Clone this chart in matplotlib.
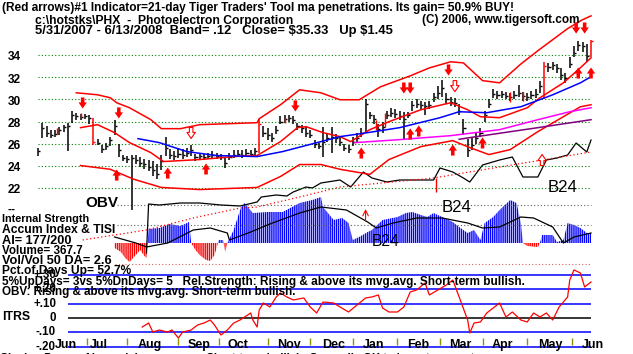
import matplotlib
matplotlib.use("Agg")
import matplotlib.pyplot as plt
import matplotlib.transforms as mtransforms

plt.rcParams['font.family'] = ['Liberation Sans', 'DejaVu Sans']
plt.rcParams['hatch.linewidth'] = 1.0

W, H = 633, 354
X0, DX = 38, 2.127   # pixel of first trading day, pixels per trading day

# ---------------- data ----------------
bar_days = list(range(0, 261, 2))
closes = [25.3, 27.4, 27.0, 26.8, 26.9, 27.2, 27.5, 27.6, 28.6, 28.5,
          28.4, 28.5, 28.3, 26.2, 26.1, 25.5, 25.8, 26.3, 27.6, 25.4,
          24.7, 24.6, 24.7, 24.5, 24.3, 24.2, 23.9, 23.6, 23.3, 24.4,
          25.6, 25.0, 24.9, 25.1, 25.0, 25.2, 25.4, 24.8, 24.9, 24.8,
          24.9, 25.0, 24.9, 24.8, 24.3, 24.8, 25.0, 25.1, 25.0, 25.2,
          25.1, 25.3, 27.8, 27.0, 26.8, 26.5, 27.2, 28.0, 28.2, 28.3,
          28.1, 27.6, 27.4, 27.0, 26.8, 26.0, 25.8, 26.2, 26.5, 26.6,
          26.5, 26.2, 25.6, 25.5, 26.2, 26.5, 27.0, 29.6, 28.6, 28.2,
          27.3, 27.5, 28.6, 28.8, 28.7, 28.5, 28.2, 28.6, 29.5, 29.6,
          29.5, 29.4, 29.5, 30.2, 30.6, 31.0, 30.0, 29.8, 29.7, 29.0,
          27.4, 25.4, 25.9, 26.5, 27.0, 28.6, 29.6, 30.5, 30.4, 30.5,
          30.3, 30.2, 30.4, 30.6, 30.3, 30.2, 30.4, 30.5, 31.2, 33.0,
          32.9, 33.1, 32.8, 32.2, 31.9, 33.2, 34.2, 34.9, 34.8, 33.9, 35.3]
highs = [25.6, 27.9, 27.6, 27.2, 27.2, 27.5, 27.7, 27.9, 29.0, 28.8,
         28.7, 28.7, 28.6, 28.3, 26.4, 25.9, 26.1, 26.6, 28.1, 26.0,
         25.0, 24.9, 25.0, 25.0, 24.8, 24.6, 24.5, 24.4, 24.2, 25.0,
         26.6, 25.5, 25.3, 25.6, 25.5, 25.6, 25.9, 25.1, 25.2, 25.1,
         25.2, 25.3, 25.2, 25.1, 24.7, 25.2, 25.4, 25.4, 25.4, 25.5,
         25.4, 25.6, 28.2, 27.6, 27.4, 27.0, 27.6, 28.5, 28.6, 28.6,
         28.5, 27.9, 27.7, 27.5, 27.2, 26.3, 26.1, 27.5, 27.0, 27.5,
         26.9, 26.6, 26.0, 25.9, 26.6, 27.0, 27.4, 30.0, 28.9, 28.6,
         27.8, 28.0, 29.0, 29.2, 29.1, 29.0, 28.9, 28.9, 29.9, 30.0,
         29.9, 29.8, 29.9, 30.6, 31.2, 31.8, 30.6, 30.2, 30.1, 29.6,
         28.2, 26.4, 26.5, 27.0, 27.4, 29.0, 30.0, 30.9, 30.8, 30.8,
         30.7, 30.6, 30.8, 31.3, 30.7, 30.6, 30.8, 30.9, 31.7, 33.4,
         33.3, 33.4, 33.2, 32.8, 32.4, 33.8, 34.8, 35.3, 35.2, 35.0, 35.4]
lows = [24.9, 26.5, 26.6, 26.5, 26.6, 26.8, 27.1, 25.3, 27.9, 28.1,
        28.1, 28.2, 27.8, 25.9, 25.9, 25.2, 25.4, 25.8, 26.8, 24.8,
        24.4, 24.3, 20.0, 24.2, 23.9, 23.7, 23.5, 23.1, 22.8, 23.6,
        24.9, 24.6, 24.5, 24.7, 24.6, 24.8, 24.9, 24.4, 24.6, 24.5,
        24.6, 24.7, 24.6, 24.5, 23.8, 24.5, 24.7, 24.8, 24.7, 24.8,
        24.8, 25.0, 25.2, 26.6, 26.3, 26.2, 26.9, 27.8, 27.9, 28.0,
        27.8, 27.2, 27.0, 26.6, 26.5, 25.6, 25.5, 24.8, 26.2, 25.2,
        26.1, 25.8, 25.3, 25.2, 25.8, 26.1, 26.6, 27.0, 28.2, 27.8,
        26.6, 27.0, 28.2, 28.4, 28.3, 28.1, 26.4, 28.3, 29.0, 29.2,
        29.1, 28.6, 29.1, 29.8, 30.0, 30.2, 29.6, 29.4, 29.3, 28.6,
        26.8, 24.8, 25.4, 26.0, 26.6, 28.0, 29.2, 30.1, 30.0, 30.1,
        30.0, 29.9, 30.0, 30.2, 29.9, 29.9, 30.0, 30.1, 30.6, 30.0,
        32.5, 32.7, 32.4, 31.8, 31.5, 32.8, 33.8, 34.4, 34.3, 33.4, 33.8]
signal_bars = [13, 52, 119, 130]

upper_days = [18, 28, 34, 37, 43, 53, 58, 67, 76, 103, 104, 114, 123, 133, 142, 151, 161, 175,
              184, 194, 200, 209, 217, 227, 235, 242, 249, 256, 260]
upper_band = [30.60, 30.42, 30.15, 29.70, 29.25, 28.18, 27.36, 27.36, 27.72, 27.90, 28.26, 29.52,
              30.87, 30.60, 29.97, 29.97, 31.14, 32.13, 32.85, 33.40, 33.30, 31.70, 31.50, 33.20,
              34.40, 35.40, 36.40, 37.20, 37.55]
lower_days = [20, 34, 45, 58, 76, 103, 114, 123, 133, 142, 156, 165, 180, 195, 203, 212, 222,
              235, 247, 255, 260]
lower_band = [24.03, 23.69, 22.79, 22.05, 21.86, 22.05, 23.04, 24.12, 24.12, 23.69, 23.23, 24.57,
              25.74, 26.28, 25.65, 25.02, 25.47, 27.09, 28.44, 29.34, 29.52]
ma21_days = [20, 28, 36, 43, 53, 59, 76, 92, 103, 114, 122, 126, 134, 142, 147, 156, 165, 180,
             194, 202, 208, 217, 230, 236, 247, 255, 260]
ma21 = [27.45, 27.72, 27.00, 26.10, 25.20, 24.39, 24.57, 24.84, 24.93, 26.19, 27.45, 27.54, 27.00,
        26.64, 26.19, 27.27, 27.99, 29.07, 29.70, 29.07, 28.44, 28.35, 29.25, 30.15, 31.50, 32.86,
        33.76]
ma50_days = [47, 57, 70, 84, 103, 115, 133, 142, 155, 170, 189, 198, 211, 227, 242, 255, 260]
ma50 = [26.46, 26.10, 25.29, 24.93, 24.84, 25.29, 26.19, 26.64, 27.00, 27.45, 28.35, 28.89, 28.80,
        29.34, 30.42, 31.50, 32.05]
mag_days = [149, 170, 194, 217, 235, 250, 260]
ma_mag = [26.10, 26.37, 26.73, 27.27, 28.17, 28.89, 29.25]
pur_days = [198, 203, 235, 260]
ma_pur = [26.40, 26.55, 27.45, 28.17]

# red "tool" arrows: (day, price)
down_arrows = [(21, 29.68), (38, 28.78), (121, 29.41), (172, 31.03), (175, 31.03), (193, 32.66),
               (253, 36.45), (257, 36.45)]
down_hollow = [(72, 26.97), (196, 31.2)]
up_arrows = [(37, 23.17), (61, 23.35), (79, 23.72), (152, 25.16), (175, 26.88), (179, 27.15),
             (195, 25.43), (209, 26.07), (254, 32.39), (260, 32.39)]
up_hollow = [(237, 24.53)]
red_ticks = [(9, 26.9, 27.4), (20, 28.4, 28.8), (116, 27.9, 28.3), (159, 27.2, 28.1),
             (163, 27.5, 28.8), (222, 29.8, 30.7), (228, 29.9, 30.7)]

# on-balance volume (arbitrary units) and its moving average
obv_days = [51, 52, 57, 67, 76, 86, 95, 103, 105, 112, 117, 120, 126, 129, 133, 136, 142, 147, 153,
            157, 164, 170, 175, 186, 189, 195, 200, 203, 209, 217, 223, 228, 235, 239, 244, 249,
            253, 258, 260]
obv = [-43, 6, 5, 7, 7, 5, 4, 8, 13, 15, 14, 18, 23, 22, 27, 28, 30, 23, 38, 32, 28, 30, 30, 30, 42,
       38, 32, 28, 45, 50, 53, 33, 33, 50, 52, 55, 67, 58, 70]
obv_ma_days = [21, 51, 73, 95, 103, 123, 142, 186, 217, 260]
obv_ma = [-30, -20, -8, 2, 3, 13, 23, 32, 43, 58]

# accumulation index and TISI (arbitrary units)
ai_days = [36, 39, 41, 43, 46, 48, 50, 51, 52, 57, 62, 67, 71, 72, 74, 76, 79, 81, 83, 85,
           87, 88, 89, 92, 95, 97, 101, 108, 115, 123, 129, 133, 134, 139, 143, 146, 148, 151, 155, 157,
           162, 169, 173, 176, 180, 183, 186, 190, 195, 198, 202, 205, 208, 210, 214, 217, 222, 225, 227, 228,
           230, 235, 236, 237, 242, 244, 247, 249, 252, 255, 258, 260]
ai = [-0.5, -0.9, -1.5, -1.9, -1.2, -0.7, -1.3, -1.5, 1.4, 1.5, 1.9, 1.7, 2.1, 0.0, -0.7, -1.2, -1.7, -1.8, -1.2, 0.3,
      0.3, -0.9, 0.0, 1.3, 3.3, 4.0, 3.0, 3.1, 3.1, 4.0, 4.3, 4.6, 3.6, 2.3, 2.5, 2.0, 0.3, 0.6, 1.1, 1.3,
      2.3, 2.6, 3.0, 3.1, 2.8, 2.6, 3.0, 2.6, 2.1, 1.6, 1.0, 1.3, 0.3, 2.0, 2.6, 3.3, 4.3, 4.0, 2.0, 0.0,
      -0.3, -0.4, 0.0, 0.8, 0.8, 0.1, 0.3, 2.0, 1.8, 1.5, 1.0, 1.0]
tisi_days = [36, 41, 46, 51, 61, 73, 81, 89, 90, 100, 109, 123, 133, 145, 155, 159, 167, 178, 190,
             202, 209, 217, 227, 233, 242, 247, 252, 260]
tisi = [0.6, 0.3, 0.0, -0.4, 0.0, 1.3, 1.5, 1.0, 0.3, 1.1, 1.9, 3.0, 3.6, 3.3, 2.1, 1.5, 2.0, 2.5, 2.5,
        2.0, 1.5, 1.6, 2.6, 2.5, 1.6, 0.0, 0.6, 1.0]

# intermediate-term relative strength
itrs_days = [49, 52, 54, 57, 61, 63, 66, 68, 72, 75, 78, 81, 83, 86, 89, 92, 95, 100, 101, 103,
             104, 106, 109, 112, 114, 117, 120, 125, 128, 131, 134, 139, 142, 146, 150, 154, 157, 160, 162, 165,
             169, 172, 175, 178, 182, 184, 188, 192, 195, 198, 202, 203, 205, 208, 211, 214, 217, 220, 223, 227,
             230, 233, 236, 239, 242, 245, 249, 250, 252, 255, 257, 260]
itrs = [-0.063, -0.035, -0.098, -0.084, -0.098, -0.084, -0.14, -0.098, -0.084, -0.049,
        -0.035, -0.014, -0.049, -0.119, -0.084, -0.035, -0.014, 0.035, -0.014, -0.063,
        0.056, 0.105, 0.077, 0.147, 0.175, 0.147, 0.126, 0.14, 0.077, 0.035,
        0.112, 0.105, 0.077, 0.042, 0.091, 0.14, 0.147, 0.161, 0.07, 0.042,
        0.042, 0.077, 0.182, 0.196, 0.245, 0.161, 0.196, 0.231, 0.266, 0.147,
        -0.014, -0.105, -0.035, -0.028, 0.035, 0.07, 0.105, 0.007, 0.042, -0.014,
        -0.028, 0.035, 0.007, 0.035, -0.014, 0.077, 0.147, 0.266, 0.336, 0.315,
        0.217, 0.252]
itrs_levels = [0.3, 0.2, 0.1, -0.1, -0.2]
itrs_labels = {0.3: "+.30", 0.2: "+.20", 0.1: "+.10", 0.0: "0", -0.1: "-.10", -0.2: "-.20"}

price_levels = [22, 24, 26, 28, 30, 32, 34]
month_ticks = [23, 42, 66, 85, 108, 128, 148, 169, 189, 209, 230, 251]
month_names = ["Jun", "Jul", "Aug", "Sep", "Oct", "Nov", "Dec", "Jan", "Feb", "Mar", "Apr", "May", "Jun"]
month_label_days = [8, 24.4, 47, 70.5, 89.3, 112.4, 133.5, 152.8, 173.5, 193.2, 213.4, 235, 255.8]

# ---------------- figure ----------------
fig = plt.figure(figsize=(W / 100, H / 100), dpi=100)
fig.patch.set_facecolor('white')


def layer(ref_val, ref_px, px_per_unit):
    """Full-figure axes whose value ref_val sits at pixel row ref_px."""
    ax = fig.add_axes([0, 0, 1, 1])
    ax.set_xlim(-X0 / DX, (W - X0) / DX)
    ax.set_ylim(ref_val - (H - ref_px) / px_per_unit, ref_val + ref_px / px_per_unit)
    ax.axis('off')
    ax.patch.set_alpha(0)
    return ax


ax_a = layer(0, 243, 10)      # accumulation panel
ax_i = layer(0, 318, 143)     # ITRS panel
ax_o = layer(0, 210, 1)       # OBV
ax_p = layer(22, 188, 11.07)  # price

dot = (0, (1, 2))

# price panel
ax_p.hlines(price_levels, 0, 260, colors='#008000', linestyles=dot, lw=0.8)
bar_cols = ['red' if k in signal_bars else 'black' for k in range(len(bar_days))]
ax_p.vlines(bar_days, lows, highs, colors=bar_cols, lw=1.1)
ax_p.hlines(closes, bar_days, [d + 1.0 for d in bar_days], colors=bar_cols, lw=1.0)
for d, lo, hi in red_ticks:
    ax_p.vlines(d, lo, hi, colors='red', lw=1.0)
ax_p.plot(upper_days, upper_band, color='red', lw=1.1)
ax_p.plot(lower_days, lower_band, color='red', lw=1.1)
ax_p.plot(ma21_days, ma21, color='red', lw=1.1)
ax_p.plot(ma50_days, ma50, color='blue', lw=1.1)
ax_p.plot(mag_days, ma_mag, color='#ff00ff', lw=1.1)
ax_p.plot(pur_days, ma_pur, color='#800080', lw=1.1)


def arrow(d, p, up, hollow=False):
    tail, tip = (p - 0.5, p + 0.5) if up else (p + 0.5, p - 0.5)
    ax_p.annotate('', xy=(d, tip), xytext=(d, tail),
                  arrowprops=dict(arrowstyle='simple,head_length=0.55,head_width=0.75,tail_width=0.32',
                                  fc='white' if hollow else 'red', ec='red',
                                  lw=0.8 if hollow else 0, shrinkA=0, shrinkB=0, mutation_scale=8))


for d, p in down_arrows:
    arrow(d, p, False)
for d, p in down_hollow:
    arrow(d, p, False, True)
for d, p in up_arrows:
    arrow(d, p, True)
for d, p in up_hollow:
    arrow(d, p, True, True)
ax_p.annotate('', xy=(154, 20.1), xytext=(154, 19.0),
              arrowprops=dict(arrowstyle='->', color='red', lw=0.8, shrinkA=0, shrinkB=0))

# OBV
ax_o.plot(obv_days, obv, color='black', lw=0.9)
ax_o.plot(obv_ma_days, obv_ma, color='red', lw=0.9, ls=dot)
ax_o.vlines(187, 18, 32, colors='red', lw=1.0)

# accumulation index + TISI
ax_a.hlines([3.8, 1.8], 37, 260, colors='#606060', linestyles=dot, lw=0.8)
ax_a.hlines([-2.1], 36, 260, colors='#e06060', linestyles=dot, lw=0.8)
ax_a.fill_between(ai_days, 0, ai, where=[v >= 0 for v in ai], interpolate=True,
                  facecolor='white', edgecolor='blue', hatch='||||||||', lw=0)
ax_a.fill_between(ai_days, 0, ai, where=[v <= 0 for v in ai], interpolate=True,
                  facecolor='white', edgecolor='red', hatch='||||||||', lw=0)
ax_a.plot(tisi_days, tisi, color='black', lw=0.9)

# ITRS
ax_i.hlines(itrs_levels, 14, 260, colors='blue', lw=1.1)
ax_i.hlines([0], 14, 260, colors='black', lw=1.1)
ax_i.plot(itrs_days, itrs, color='red', lw=0.9)
ax_i.vlines(month_ticks, -0.189, -0.14, colors='#909000', lw=1.0)

# ---------------- text ----------------
renderer = fig.canvas.get_renderer()


def put(xpx, ypx, s, width=None, size=7.9, weight='bold', ha='left', **kw):
    t = fig.text(xpx / W, 1 - ypx / H, s, fontsize=size, fontweight=weight, ha=ha, va='center',
                 parse_math=False, **kw)
    if width:
        t.set_fontsize(size * width / t.get_window_extent(renderer).width)
    return t


put(2, 7.5, "(Red arrows)#1 Indicator=21-day Tiger Traders' Tool ma penetrations. Its gain= 50.9% BUY!", 518)
put(35, 21, "c:\\hotstks\\PHX  -  Photoelectron Corporation", 259)
put(35, 31, "5/31/2007 - 6/13/2008  Band= .12   Close= $35.33   Up $1.45", 358)
put(422, 20, "(C) 2006, www.tigersoft.com", 157)

tp = mtransforms.blended_transform_factory(fig.transFigure, ax_p.transData)
for lvl in price_levels:
    ax_p.text(21 / W, lvl - 0.2, str(lvl), transform=tp, ha='right', va='center',
              fontsize=8.6, fontweight='bold')
put(7, 210, "--", size=8.6)
put(85, 203, "OBV", 33, size=10)

put(2, 219, "Internal Strength", 88)
put(2, 230, "Accum Index & TISI", 113)
put(2, 241, "AI= 177/200", 70)
put(2, 251, "Volume= 367.7", 81)
put(2, 261, "Vol/Vol 50 DA= 2.6", 110)

ti = mtransforms.blended_transform_factory(fig.transFigure, ax_i.transData)
for lvl, lab in itrs_labels.items():
    ax_i.text(56 / W, lvl, lab, transform=ti, ha='right', va='center', fontsize=8.3, fontweight='bold')
put(2, 271, "Pct.of Days Up= 52.7%", 130)
put(2, 282, "5%UpDays= 3vs 5%DnDays= 5   Rel.Strength: Rising & above its mvg.avg. Short-term bullish.", 525)
put(2, 292, "OBV: Rising & above its mvg.avg. Short-term bullish.", 295)
put(2, 317, "ITRS", 28)

for d, name in zip(month_label_days, month_names):
    ax_i.text(d, -0.192, name, ha='left', va='center', fontsize=9, fontweight='bold')

put(548, 188, "B24", 30, size=12, weight='normal')
put(442, 208, "B24", 30, size=12, weight='normal')
put(372, 241, "B24", 28, size=12, weight='normal')

put(0, 358, "Closing Power: Above rising mvg.avg. Short-term bullish. Generally OK to buy at support.", 480)

fig.savefig("out.png", dpi=100, facecolor='white')
